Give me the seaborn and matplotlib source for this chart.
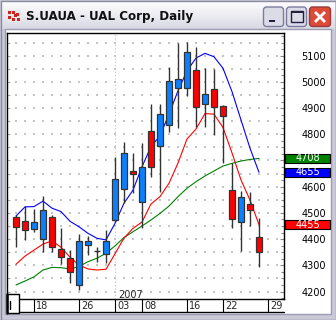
import numpy as np
import pandas as pd
import matplotlib
matplotlib.use("Agg")
import matplotlib.pyplot as plt
import matplotlib.transforms as mtransforms
from matplotlib.patches import Rectangle, FancyBboxPatch
from matplotlib.colors import LinearSegmentedColormap
import seaborn as sns

# ---------------- data ----------------
opens  = [4483, 4468, 4437, 4399, 4486, 4361, 4327, 4225, 4376, 4356, 4342, 4473, 4590, 4660,
          4540, 4814, 4757, 4835, 4976, 4976, 5045, 4914, 4973, 4908, 4587, 4467, 4533, 4408]
highs  = [4492, 4525, 4515, 4564, 4492, 4441, 4360, 4420, 4412, 4371, 4435, 4713, 4769, 4727,
          4767, 4916, 4916, 5056, 5147, 5151, 5132, 5052, 5049, 4912, 4689, 4584, 4579, 4482]
lows   = [4368, 4397, 4428, 4352, 4352, 4306, 4234, 4206, 4339, 4314, 4308, 4465, 4537, 4575,
          4441, 4638, 4581, 4810, 4823, 4946, 4829, 4829, 4799, 4689, 4444, 4356, 4451, 4295]
closes = [4447, 4434, 4464, 4510, 4370, 4331, 4275, 4393, 4393, 4356, 4392, 4629, 4727, 4648,
          4674, 4676, 4877, 5003, 5011, 5113, 4903, 4953, 4905, 4870, 4476, 4560, 4510, 4349]
ma_blue  = [4488, 4523, 4524, 4545, 4518, 4505, 4468, 4447, 4422, 4403, 4397, 4460, 4537, 4587,
            4676, 4753, 4794, 4877, 4966, 5042, 5091, 5109, 5096, 5052, 4963, 4855, 4747, 4655]
ma_red   = [4304, 4335, 4358, 4381, 4393, 4369, 4331, 4301, 4286, 4282, 4285, 4344, 4404, 4441,
            4465, 4534, 4562, 4613, 4690, 4782, 4820, 4879, 4877, 4826, 4729, 4626, 4549, 4455]
ma_green = [4225, 4240, 4256, 4282, 4292, 4291, 4286, 4295, 4314, 4327, 4346, 4374, 4406, 4428,
            4450, 4473, 4498, 4526, 4562, 4594, 4619, 4641, 4660, 4679, 4689, 4698, 4704, 4708]
tick_idx    = [2, 7, 11, 14, 19, 23, 28]
tick_labels = ["18", "26", "03", "08", "16", "22", "29"]
year_idx, year_label = 11, "2007"
price_ticks = list(range(4200, 5101, 100))
title = "S.UAUA - UAL Corp, Daily"

# ---------------- style ----------------
sns.set_style("white")
plt.rcParams["font.family"] = ["DejaVu Sans"]

W, H = 336, 320
fig = plt.figure(figsize=(W / 100, H / 100), dpi=100)
fig.patch.set_facecolor("#c9c9d8")

# background (window chrome) in pixel coordinates
bg = fig.add_axes([0, 0, 1, 1], zorder=0)
bg.axis("off")
cm = LinearSegmentedColormap.from_list("t", ["#fefefe", "#ececf2", "#d8d8e4"])
bg.imshow(np.linspace(0, 1, 40)[:, None], extent=(1, 335, 29, 1), cmap=cm, aspect="auto", zorder=1)
bg.set_xlim(0, W)
bg.set_ylim(H, 0)
bg.add_patch(Rectangle((0.5, 0.5), W - 1, H - 1, fill=False, ec="#8a8aa0", lw=1, zorder=2))
bg.add_patch(Rectangle((5, 29), 326, 285, fc="white", ec="#9c9cb0", lw=1, zorder=2))
# icon
bg.add_patch(Rectangle((7, 10), 14, 12, fc="#e8e8e8", ec="none", zorder=3))
for (x, y) in [(8, 11), (12, 11), (16, 13), (8, 16), (12, 18), (17, 18), (14, 14)]:
    bg.add_patch(Rectangle((x, y), 3, 3, fc="#d02020", ec="none", zorder=4))
bg.text(26, 16.5, title, fontsize=8.6, fontweight="bold", color="#111111", va="center", ha="left", zorder=5,
        family=["DejaVu Sans"])
# buttons
for x0 in (263.5, 286.5):
    bg.add_patch(FancyBboxPatch((x0, 7), 20, 19.5, boxstyle="round,pad=0,rounding_size=3",
                                fc="#dcdce8", ec="#7c7ca0", lw=1, zorder=3))
bg.add_patch(Rectangle((269, 20), 6, 2, fc="#202040", ec="none", zorder=4))
bg.add_patch(Rectangle((290.5, 11), 12, 11, fill=False, ec="#202040", lw=1, zorder=4))
bg.add_patch(Rectangle((290.5, 11), 12, 1.5, fc="#202040", ec="none", zorder=4))
bg.add_patch(FancyBboxPatch((309.5, 7), 21, 19.5, boxstyle="round,pad=0,rounding_size=3",
                            fc="#dc4a38", ec="#9a3a3a", lw=1, zorder=3))
bg.plot([315, 325], [12, 22], color="white", lw=2, zorder=4, solid_capstyle="butt")
bg.plot([315, 325], [22, 12], color="white", lw=2, zorder=4, solid_capstyle="butt")

# ---------------- main chart ----------------
ax = fig.add_axes([7 / W, (H - 299) / H, 277 / W, 266.5 / H], zorder=2)
ax.set_facecolor("white")
ax.set_xlim(-1, 29.78)
ax.set_ylim(4171.4, 5188.5)

idx = np.arange(len(opens))
levels50 = np.arange(4200, 5151, 50)
gx, gy = np.meshgrid(np.arange(0, 30), levels50)
ax.scatter(gx.ravel(), gy.ravel(), s=0.7, marker="s", color="#c4c4c4", linewidths=0, zorder=1)
ax.hlines(levels50, -1, -0.62, color="#a8a8a8", lw=0.8, zorder=1)
ax.axvline(year_idx, color="#c4c4c4", ls=(0, (1, 2)), lw=0.8, zorder=1)

df = pd.DataFrame({"i": idx, "blue": ma_blue, "red": ma_red, "green": ma_green})
for col, c in [("green", "#008000"), ("red", "#ff0000"), ("blue", "#0000ff")]:
    sns.lineplot(data=df, x="i", y=col, color=c, linewidth=0.8, ax=ax, zorder=4, legend=False)

for i, o, h, l, c in zip(idx, opens, highs, lows, closes):
    ax.vlines(i, l, h, color="#333333", lw=1.0, zorder=5)
    if o == c:
        ax.hlines(o, i - 0.32, i + 0.32, color="#333333", lw=1.0, zorder=6)
    else:
        fc = "#0a80ff" if c > o else "#ff0000"
        ax.bar(i, abs(c - o), bottom=min(o, c), width=0.56, color=fc, edgecolor="#333333",
               linewidth=0.9, zorder=6)

ax.set_xlabel("")
ax.set_ylabel("")
for s in ax.spines.values():
    s.set_color("black")
    s.set_linewidth(1.0)

# value boxes at right (they hide price labels lying under them)
box_vals = [(ma_green[-1], "#008000"), (ma_blue[-1], "#0000ff"), (ma_red[-1], "#ff0000")]
hidden = [p for p in price_ticks if any(abs(p - v) < 20 for v, _ in box_vals)]

# y axis on the right
ax.yaxis.tick_right()
ax.set_yticks(price_ticks)
ax.set_yticklabels(["" if p in hidden else str(p) for p in price_ticks], fontsize=7, color="black")
ax.set_yticks(np.arange(4175, 5188, 25), minor=True)
ax.tick_params(axis="y", which="major", direction="in", length=3, width=0.8, color="#888888", pad=12.3)
ax.tick_params(axis="y", which="minor", direction="in", length=2, width=0.8, color="#888888")
ax.tick_params(axis="y", which="both", left=False, right=True)

# x axis: date ticks in a strip below
ax.set_xticks(tick_idx)
ax.set_xticklabels([""] * len(tick_idx))
ax.tick_params(axis="x", direction="out", length=9.4, width=0.8, color="black", bottom=True, top=False)
tr = mtransforms.blended_transform_factory(ax.transData, ax.transAxes)
for t, lab in zip(tick_idx, tick_labels):
    ax.text(t + 0.27, -0.0265, lab, transform=tr, fontsize=7, ha="left", va="center", clip_on=False)
ax.text(year_idx + 0.38, 0.015, year_label, transform=tr, fontsize=7, ha="left", va="center", zorder=7)

trv = mtransforms.blended_transform_factory(ax.transAxes, ax.transData)
bw = 45 / 277
for val, c in box_vals:
    ax.add_patch(Rectangle((1.004, val - 16.5), bw, 33, transform=trv, fc=c, ec="black", lw=0.8,
                           clip_on=False, zorder=8))
    ax.text(1.004 + bw / 2, val, f"{val:.0f}", transform=trv, fontsize=7, color="white",
            ha="center", va="center", clip_on=False, zorder=9)

# overlay: strip bottom line and the little box at bottom left
fg = fig.add_axes([0, 0, 1, 1], zorder=3)
fg.axis("off")
fg.set_xlim(0, W)
fg.set_ylim(H, 0)
fg.plot([19.3, 283.5], [312.3, 312.3], color="black", lw=1)
fg.add_patch(Rectangle((7, 293.5), 12.3, 19.3, fc="white", ec="black", lw=1))
fg.plot([7, 7], [293.5, 312.8], color="black", lw=1.8)
fg.plot([9.5, 9.5], [300.5, 308.5], color="black", lw=1)

fig.savefig("out.png", dpi=100)
